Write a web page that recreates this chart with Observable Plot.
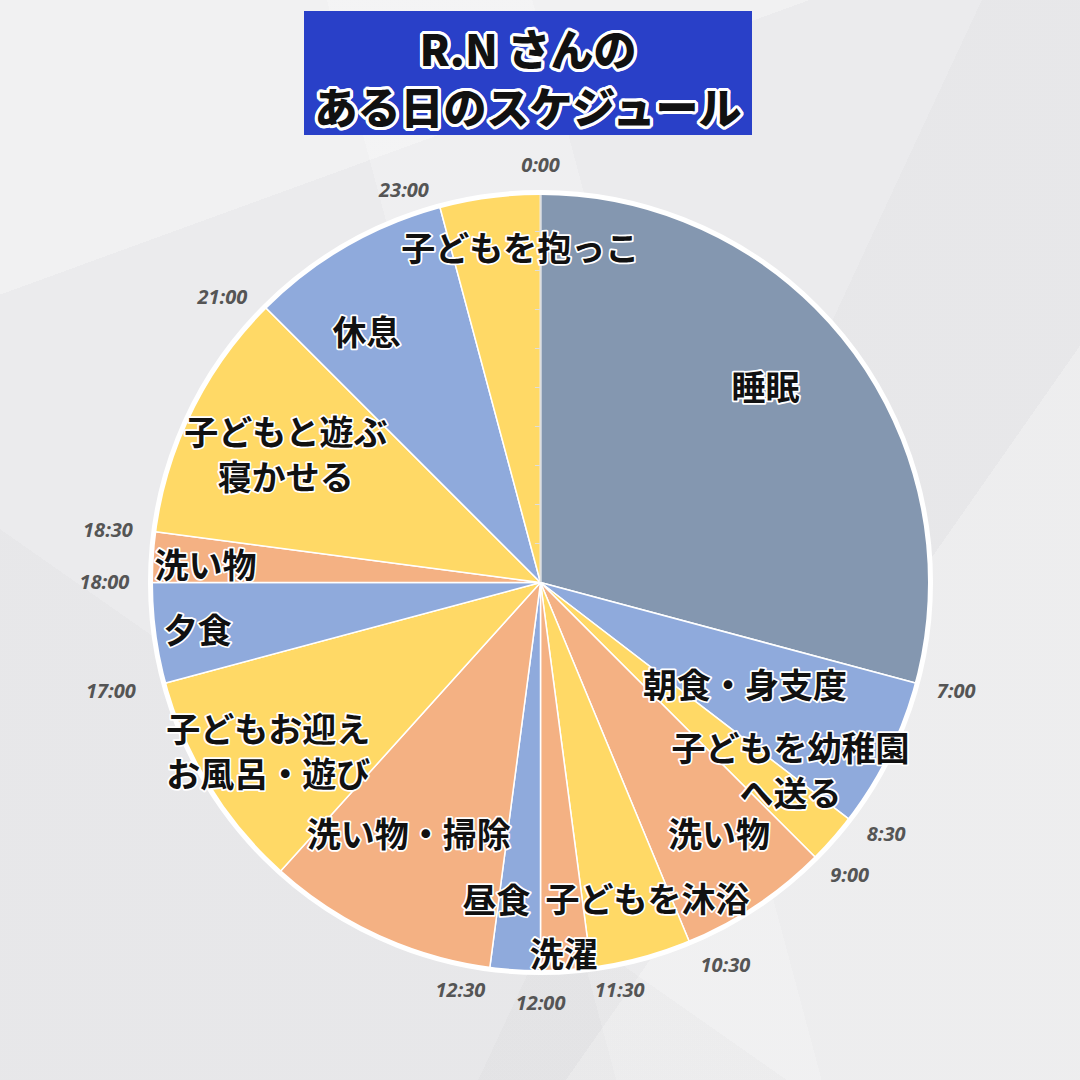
<!DOCTYPE html>
<html><head><meta charset="utf-8">
<script src="https://cdn.jsdelivr.net/npm/d3@7"></script>
<script src="https://cdn.jsdelivr.net/npm/@observablehq/plot@0.6"></script>
<style>
html,body{margin:0;padding:0;}
body{width:1080px;height:1080px;overflow:hidden;}
#wrap{position:relative;width:1080px;height:1080px;
 background:
  linear-gradient(160deg, rgba(255,255,255,.3) 0 20%, transparent 20%),
  linear-gradient(35deg, rgba(0,0,0,.015) 0 30%, transparent 30%),
  linear-gradient(-55deg, rgba(255,255,255,.25) 0 28%, transparent 28%),
  linear-gradient(115deg, transparent 62%, rgba(0,0,0,.015) 62%),
  linear-gradient(75deg, transparent 45%, rgba(255,255,255,.2) 45% 60%, transparent 60%),
  #ebebed;}
#title{position:absolute;left:304px;top:11px;width:448px;height:124px;background:#2940C8;z-index:2;
 font-family:"Noto Sans CJK JP","Noto Sans",sans-serif;font-weight:900;color:#111;text-align:center;
 text-shadow:3px 0 0 #fff,-3px 0 0 #fff,0 3px 0 #fff,0 -3px 0 #fff,2px 2px 0 #fff,-2px 2px 0 #fff,2px -2px 0 #fff,-2px -2px 0 #fff,3px 1px 0 #fff,3px -1px 0 #fff,-3px 1px 0 #fff,-3px -1px 0 #fff,1px 3px 0 #fff,-1px 3px 0 #fff,1px -3px 0 #fff,-1px -3px 0 #fff;}
#title .l1{position:absolute;left:0;right:0;top:6px;font-size:43px;line-height:60px;}
#title .l2{position:absolute;left:0;right:0;top:64px;font-size:43px;line-height:60px;}
#chart{position:absolute;left:0;top:0;z-index:1;}
</style></head>
<body><div id="wrap">
<div id="title"><div class="l1">R.N さんの</div><div class="l2">ある日のスケジュール</div></div>
<div id="chart"></div>
</div>
<script>
// ---- data ----
const activities = ["睡眠","朝食・身支度","子どもを幼稚園\nへ送る","洗い物","子どもを沐浴","洗濯","昼食","洗い物・掃除","子どもお迎え\nお風呂・遊び","夕食","洗い物","子どもと遊ぶ\n寝かせる","休息","子どもを抱っこ"];
const startHours = [0, 7, 8.5, 9, 10.5, 11.5, 12, 12.5, 14.8, 17, 18, 18.5, 21, 23];
const endHours   = [7, 8.5, 9, 10.5, 11.5, 12, 12.5, 14.8, 17, 18, 18.5, 21, 23, 24];
const kinds = ["睡眠","食事・休息","子ども","家事","子ども","家事","食事・休息","家事","子ども","食事・休息","家事","子ども","食事・休息","子ども"];
const kindOrder = ["睡眠","食事・休息","子ども","家事"];
const timeLabels = ["0:00","7:00","8:30","9:00","10:30","11:30","12:00","12:30","17:00","18:00","18:30","21:00","23:00"];

// ---- layout (not data) ----
const kindColors = ["#8497B0","#8FAADC","#FFD966","#F4B183"];
const labelPlace = [[3.25,0.767],[7.75,0.585],[8.45,0.80],[9.63,0.787],[10.75,0.854],[11.76,0.95],[12.53,0.818],[13.85,0.726],[15.89,0.82],[17.49,0.887],[18.21,0.86],[19.8,0.733],[21.69,0.785],[23.77,0.864]];
// pixel nudges of the time labels
const timeNudge = [[0,6],[7,0],[10,-6],[10,-6],[23,-8],[24,-11],[0,-2],[-25,-11],[-21,0],[-13,0],[-13,3],[-19,14],[-27,17]];
const cx = 540, cy = 582, R = 390;

const toXY = (h, r) => { const a = h / 24 * 2 * Math.PI; return [Math.sin(a) * r, Math.cos(a) * r]; };
const hourOf = s => { const [h, m] = s.split(":").map(Number); return h + m / 60; };

const slicePts = [];
activities.forEach((name, i) => {
  const s = startHours[i], e = endHours[i];
  slicePts.push({id: i, kind: kinds[i], x: 0, y: 0});
  const n = Math.max(2, Math.ceil((e - s) / 0.02));
  for (let k = 0; k <= n; k++) {
    const [x, y] = toXY(s + (e - s) * k / n, 1);
    slicePts.push({id: i, kind: kinds[i], x, y});
  }
  slicePts.push({id: i, kind: kinds[i], x: 0, y: 0});
});

const sliceLabels = activities.map((name, i) => {
  const [x, y] = toXY(labelPlace[i][0], labelPlace[i][1]);
  return {name, x, y};
});
const timePts = timeLabels.map((t, i) => {
  const [x, y] = toXY(hourOf(t), 1.085);
  return {t, x: x + timeNudge[i][0] / R, y: y - timeNudge[i][1] / R};
});
const ticks = d3.range(1, 11).map(k => ({r: k / 10}));

const chart = Plot.plot({
  width: 1080, height: 1080, margin: 0,
  style: {background: "transparent", overflow: "visible"},
  x: {domain: [-1, 1], range: [cx - R, cx + R], axis: null},
  y: {domain: [-1, 1], range: [cy + R, cy - R], axis: null},
  color: {domain: kindOrder, range: kindColors},
  marks: [
    Plot.line(slicePts, {x: "x", y: "y", z: "id", fill: "kind", stroke: "white", strokeWidth: 1.5, curve: "linear", strokeLinejoin: "round"}),
    Plot.ruleX([0], {y1: 0, y2: 1, stroke: "#dedede", strokeWidth: 1.5}),
    Plot.ruleY(ticks, {y: "r", x1: -0.013, x2: 0, stroke: "#dedede", strokeWidth: 1}),
    Plot.dot([{x: 0, y: 0}], {x: "x", y: "y", r: R, fill: "none", stroke: "white", strokeWidth: 5}),
    Plot.text(sliceLabels, {x: "x", y: "y", text: "name", fill: "#111", stroke: "white", strokeWidth: 3.5,
      fontSize: 34, fontWeight: 700, fontFamily: "'Noto Sans CJK JP', sans-serif", lineHeight: 1.32}),
    Plot.text(timePts, {x: "x", y: "y", text: "t", fill: "#555", fontSize: 20, fontWeight: "bold",
      fontStyle: "italic", fontFamily: "'Open Sans', sans-serif"})
  ]
});
document.getElementById("chart").appendChild(chart);
</script>
</body></html>
